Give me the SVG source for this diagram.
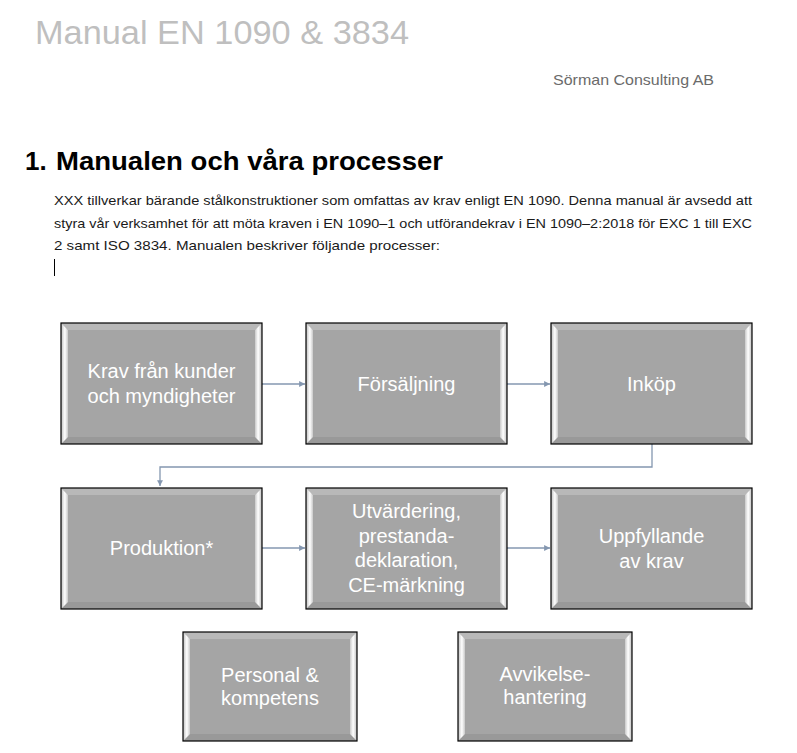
<svg xmlns="http://www.w3.org/2000/svg" xmlns:xlink="http://www.w3.org/1999/xlink" width="797" height="753" viewBox="0 0 797 753">
<style>
.title{font-family:"Liberation Sans",Arial,sans-serif;font-size:33px;fill:#bfbfbf}
.company{font-family:"Liberation Sans",Arial,sans-serif;font-size:14.5px;fill:#6b6b6b}
.heading{font-family:"Liberation Sans",Arial,sans-serif;font-size:26px;font-weight:bold;fill:#000}
.body{font-family:"Liberation Sans",Arial,sans-serif;font-size:13.5px;fill:#1a1a1a}
.lbl{font-family:"Liberation Sans",Arial,sans-serif;font-size:20px;fill:#fff;text-anchor:middle}
.conn{fill:none;stroke:#8497b0;stroke-width:1.3}
</style>
<defs>
<linearGradient id="gL" x1="0" y1="0" x2="1" y2="0">
<stop offset="0" stop-color="#bdbdbd"/><stop offset="0.55" stop-color="#ffffff"/><stop offset="1" stop-color="#c8c8c8"/>
</linearGradient>
<linearGradient id="gR" x1="1" y1="0" x2="0" y2="0">
<stop offset="0" stop-color="#bdbdbd"/><stop offset="0.55" stop-color="#ffffff"/><stop offset="1" stop-color="#c8c8c8"/>
</linearGradient>
<marker id="arr" viewBox="0 0 10 10" refX="10" refY="5" markerWidth="4.5" markerHeight="4.5" orient="auto" markerUnits="strokeWidth">
<path d="M0,0 L10,5 L0,10 z" fill="#8497b0"/>
</marker>
<g id="boxL">
<rect x="0" y="0" width="201" height="121" fill="#a5a5a5"/>
<polygon points="0,0 201,0 194,7 7,7" fill="#b8b8b8"/>
<polygon points="0,121 7,114 194,114 201,121" fill="#999999"/>
<polygon points="0,0 7,7 7,114 0,121" fill="url(#gL)"/>
<polygon points="201,0 194,7 194,114 201,121" fill="url(#gR)"/>
<rect x="0" y="0" width="201" height="121" fill="none" stroke="#000" stroke-width="1.2"/>
</g>
<g id="boxS">
<rect x="0" y="0" width="174" height="109" fill="#a5a5a5"/>
<polygon points="0,0 174,0 167,7 7,7" fill="#b8b8b8"/>
<polygon points="0,109 7,102 167,102 174,109" fill="#999999"/>
<polygon points="0,0 7,7 7,102 0,109" fill="url(#gL)"/>
<polygon points="174,0 167,7 167,102 174,109" fill="url(#gR)"/>
<rect x="0" y="0" width="174" height="109" fill="none" stroke="#000" stroke-width="1.2"/>
</g>
</defs>
<rect width="797" height="753" fill="#fff"/>
<text class="title" x="35" y="44" textLength="374" lengthAdjust="spacingAndGlyphs">Manual EN 1090 &amp; 3834</text>
<text class="company" x="553" y="85" textLength="161" lengthAdjust="spacingAndGlyphs">Sörman Consulting AB</text>
<text class="heading" x="25" y="170">1.</text>
<text class="heading" x="56" y="170" textLength="387" lengthAdjust="spacingAndGlyphs">Manualen och våra processer</text>
<text class="body" x="54" y="205" textLength="698" lengthAdjust="spacingAndGlyphs">XXX tillverkar bärande stålkonstruktioner som omfattas av krav enligt EN 1090. Denna manual är avsedd att</text>
<text class="body" x="54" y="228" textLength="698" lengthAdjust="spacingAndGlyphs">styra vår verksamhet för att möta kraven i EN 1090–1 och utförandekrav i EN 1090–2:2018 för EXC 1 till EXC</text>
<text class="body" x="54" y="250" textLength="386" lengthAdjust="spacingAndGlyphs">2 samt ISO 3834. Manualen beskriver följande processer:</text>
<line x1="54.5" y1="259" x2="54.5" y2="276" stroke="#000" stroke-width="1"/>
<g id="connectors">
<line class="conn" x1="262" y1="384" x2="305" y2="384" marker-end="url(#arr)"/>
<line class="conn" x1="507" y1="384" x2="550" y2="384" marker-end="url(#arr)"/>
<path class="conn" d="M652,444 V467 H160 V486" marker-end="url(#arr)"/>
<line class="conn" x1="262" y1="548" x2="305" y2="548" marker-end="url(#arr)"/>
<line class="conn" x1="507" y1="548" x2="550" y2="548" marker-end="url(#arr)"/>
</g>
<g id="krav"><use xlink:href="#boxL" x="61" y="323"/>
<text class="lbl" x="161.5" y="378">Krav från kunder</text><text class="lbl" x="161.5" y="403">och myndigheter</text></g>
<g id="forsaljning"><use xlink:href="#boxL" x="306" y="323"/>
<text class="lbl" x="406.5" y="391">Försäljning</text></g>
<g id="inkop"><use xlink:href="#boxL" x="551" y="323"/>
<text class="lbl" x="651.5" y="391">Inköp</text></g>
<g id="produktion"><use xlink:href="#boxL" x="61" y="488"/>
<text class="lbl" x="161.5" y="555">Produktion*</text></g>
<g id="utvardering"><use xlink:href="#boxL" x="306" y="488"/>
<text class="lbl" x="406.5" y="518">Utvärdering,</text><text class="lbl" x="406.5" y="543">prestanda-</text><text class="lbl" x="406.5" y="567">deklaration,</text><text class="lbl" x="406.5" y="592">CE-märkning</text></g>
<g id="uppfyllande"><use xlink:href="#boxL" x="551" y="488"/>
<text class="lbl" x="651.5" y="543">Uppfyllande</text><text class="lbl" x="651.5" y="568">av krav</text></g>
<g id="personal"><use xlink:href="#boxS" x="183" y="632"/>
<text class="lbl" x="270" y="682">Personal &amp;</text><text class="lbl" x="270" y="705">kompetens</text></g>
<g id="avvikelse"><use xlink:href="#boxS" x="458" y="632"/>
<text class="lbl" x="545" y="681">Avvikelse-</text><text class="lbl" x="545" y="704">hantering</text></g>
</svg>
